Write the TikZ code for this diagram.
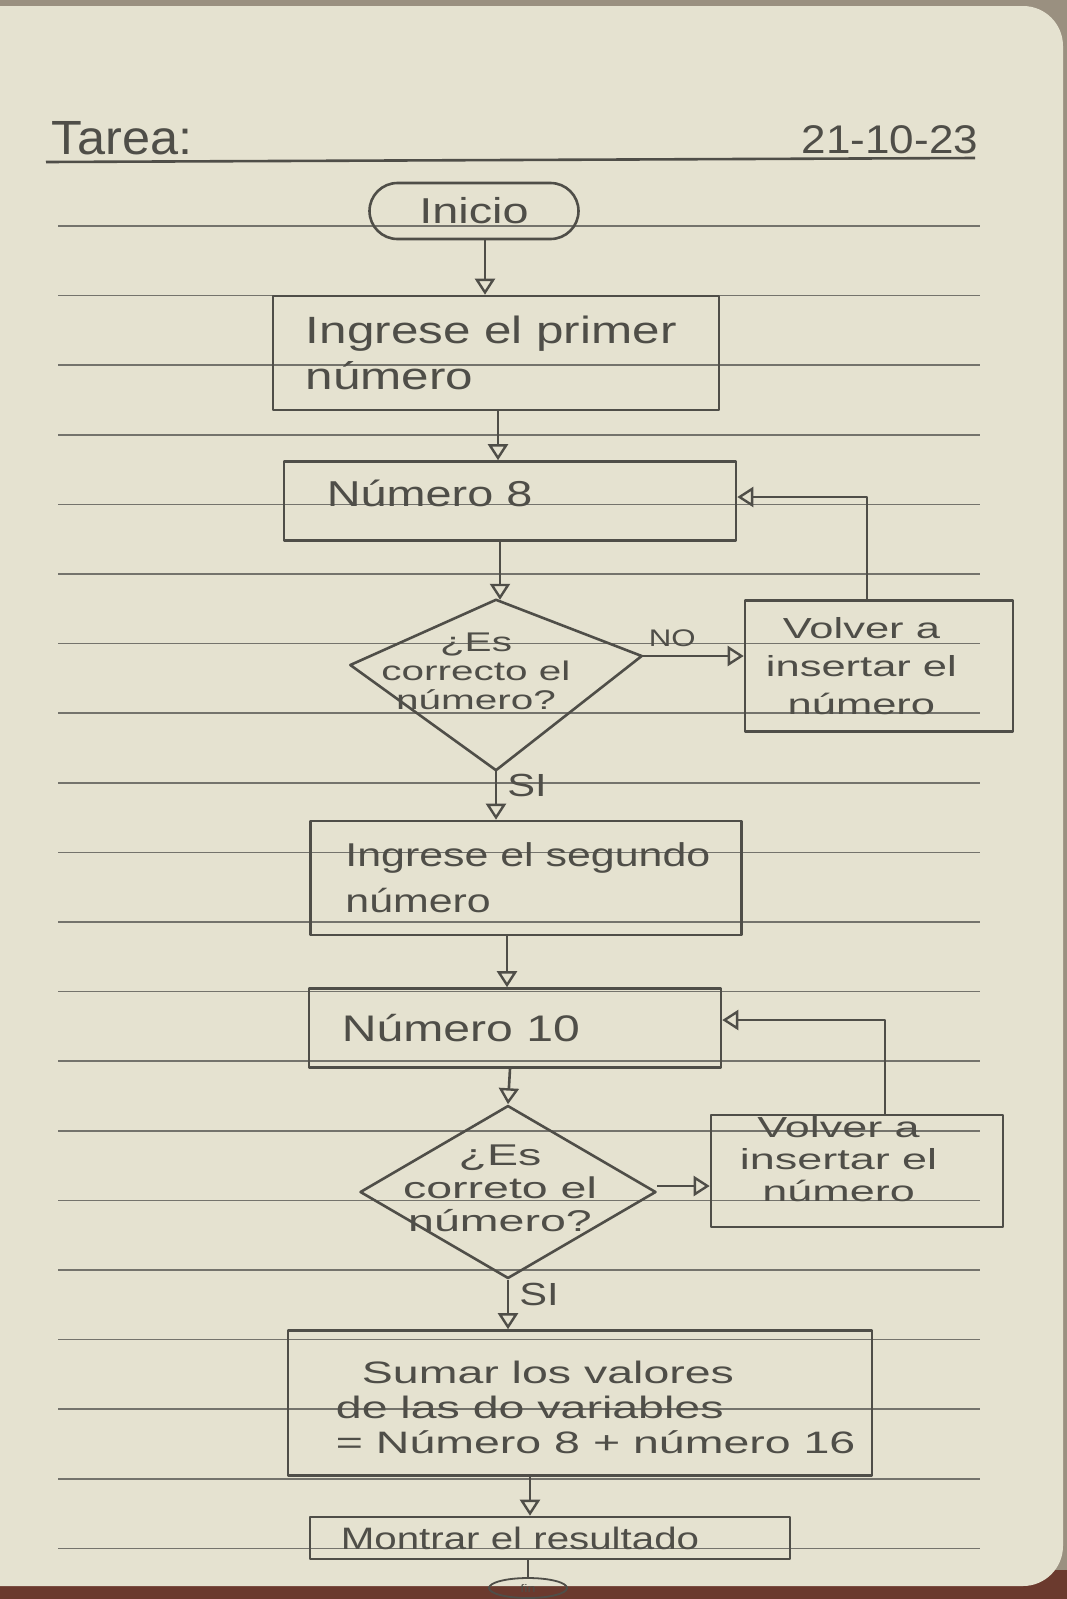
\documentclass[tikz,border=0pt]{standalone}
\usepackage{fontspec}
\setmainfont{Liberation Sans}[FakeStretch=1.3]
\usetikzlibrary{arrows.meta,shapes.geometric}

\tikzset{
  pencil/.style={draw=pencil,line width=2.6pt},
  flow/.style={pencil,-{Triangle[open,length=16pt,width=20pt,line width=2.4pt]}},
  procbox/.style={pencil,rectangle,inner sep=0pt},
  hand/.style={text=pencil,font=\fontsize{36}{44}\selectfont,align=left,inner sep=0pt},
  handsmall/.style={text=pencil,align=center,inner sep=0pt},
}
\newcommand\wider{\addfontfeatures{FakeStretch=1.5}}

\begin{document}
\begin{tikzpicture}[x=1pt,y=-1pt,line join=round]
\definecolor{paper}{HTML}{E5E2D0}
\definecolor{pencil}{HTML}{4F4E48}
\definecolor{ruling}{HTML}{74736C}
\definecolor{outside}{HTML}{9A9080}
\definecolor{cover}{HTML}{6B3A2E}
\useasboundingbox (0,0) rectangle (1067,1599);
\fill[outside] (0,0) rectangle (1067,1599);
\fill[cover] (0,1570) rectangle (1067,1599);
\fill[paper,rounded corners=40pt] (-60,6) rectangle (1063,1586);
% ruled lines of the page
\foreach \k in {0,...,19}
  \draw[ruling,line width=1.6pt] (58,226+69.6*\k) -- (980,226+69.6*\k);
% header
\node[hand,font=\addfontfeatures{FakeStretch=1.05}\fontsize{48}{50}\selectfont] (tarea) at (122,138) {Tarea:};
\node[hand,font=\addfontfeatures{FakeStretch=1.1}\fontsize{40}{44}\selectfont] (fecha) at (890,140) {21-10-23};
\draw[pencil] (46,162) -- (975,158);
% flow
\node[procbox,rounded corners=28pt,minimum width=209pt,minimum height=56pt] (inicio) at (474,211) {};
\node[hand] (t-inicio) at (inicio) {Inicio};
\node[procbox,minimum width=446pt,minimum height=114pt] (in1) at (496,353) {};
\node[hand,anchor=west,font=\fontsize{38}{46}\selectfont] (t-in1) at ([xshift=34pt]in1.west) {Ingrese el primer\\número};
\node[procbox,minimum width=452pt,minimum height=79pt] (n8) at (510,501) {};
\node[hand,anchor=west] (t-n8) at ([xshift=44pt,yshift=8pt]n8.west) {Número 8};
% first question, drawn a little lopsided
\node[minimum width=291pt,minimum height=170pt,inner sep=0pt] (q1) at (496,685) {};
\draw[pencil] (q1.north) -- ([yshift=20pt]q1.west) -- (q1.south) -- ([yshift=29pt]q1.east) -- cycle;
\node[handsmall,font=\wider\fontsize{27}{29}\selectfont] (t-q1) at ([xshift=-20pt,yshift=14pt]q1) {¿Es\\correcto el\\número?};
\node[procbox,minimum width=268pt,minimum height=131pt] (re1) at (879,666) {};
\node[handsmall,anchor=west,font=\wider\fontsize{29}{38}\selectfont] (t-re1) at ([xshift=22pt]re1.west) {Volver a\\insertar el\\número};
\node[procbox,minimum width=431pt,minimum height=114pt] (in2) at (526,878) {};
\node[hand,anchor=west,font=\fontsize{33}{46}\selectfont] (t-in2) at ([xshift=36pt]in2.west) {Ingrese el segundo\\número};
\node[procbox,minimum width=412pt,minimum height=79pt] (n10) at (515,1028) {};
\node[hand,anchor=west,font=\fontsize{37}{44}\selectfont] (t-n10) at ([xshift=34pt]n10.west) {Número 10};
\node[pencil,diamond,inner sep=0pt,minimum width=296pt,minimum height=173pt] (q2) at (508,1192) {};
\node[handsmall,font=\addfontfeatures{FakeStretch=1.55}\fontsize{30}{33}\selectfont] (t-q2) at ([xshift=-8pt,yshift=4pt]q2) {¿Es\\correto el\\número?};
\node[procbox,minimum width=292pt,minimum height=112pt] (re2) at (857,1171) {};
\node[handsmall,anchor=west,font=\addfontfeatures{FakeStretch=1.55}\fontsize{29}{32}\selectfont] (t-re2) at ([xshift=30pt,yshift=12pt]re2.west) {Volver a\\insertar el\\número};
\node[procbox,minimum width=584pt,minimum height=145pt] (suma) at (580,1403) {};
\node[hand,anchor=west,font=\wider\fontsize{31}{35}\selectfont] (t-suma) at ([xshift=49pt,yshift=-4pt]suma.west) {\hspace*{26pt}Sumar los valores\\de las do variables\\= Número 8 + número 16};
\node[procbox,minimum width=480pt,minimum height=42pt] (show) at (550,1538) {};
\node[hand,font=\fontsize{31}{36}\selectfont] (t-show) at ([xshift=-30pt]show) {Montrar el resultado};
\node[procbox,ellipse,line width=1.8pt,minimum width=78pt,minimum height=20pt] (fin) at (528,1588) {};
\node[text=pencil,font=\fontsize{11}{12}\selectfont] (t-fin) at (fin) {fin};
% connectors
\draw[flow] (inicio.south -| 485,0) -- (in1.north -| 485,0);
\draw[flow] (in1.south -| 498,0) -- (n8.north -| 498,0);
\draw[flow] (n8.south -| 500,0) -- (q1.north -| 500,0);
\draw[flow] ([yshift=29pt]q1.east) -- node[above=8pt,pos=0.3,handsmall,font=\fontsize{24}{26}\selectfont] (t-no) {NO} ([yshift=29pt]re1.west |- q1.east);
\draw[flow] ([xshift=-12pt]re1.north) |- ([yshift=4pt]n8.east);
\draw[flow] (q1.south) -- node[right=10pt,pos=0.3,hand,font=\fontsize{32}{32}\selectfont] (t-si1) {SI} (in2.north -| q1.south);
\draw[flow] (in2.south -| 507,0) -- (n10.north -| 507,0);
\draw[flow] (n10.south -| 510,0) -- (q2.north);
\draw[flow] ([yshift=6pt]q2.east) -- ([yshift=6pt]re2.west |- q2.east);
\draw[flow] ([xshift=28pt]re2.north) |- ([yshift=8pt]n10.east);
\draw[flow] (q2.south) -- node[right=10pt,pos=0.3,hand,font=\fontsize{32}{32}\selectfont] (t-si2) {SI} (suma.north -| q2.south);
\draw[flow] (suma.south -| 530,0) -- (show.north -| 530,0);
\draw[pencil,line width=1.8pt] (show.south -| 528,0) -- (fin.north);
\end{tikzpicture}
\end{document}
